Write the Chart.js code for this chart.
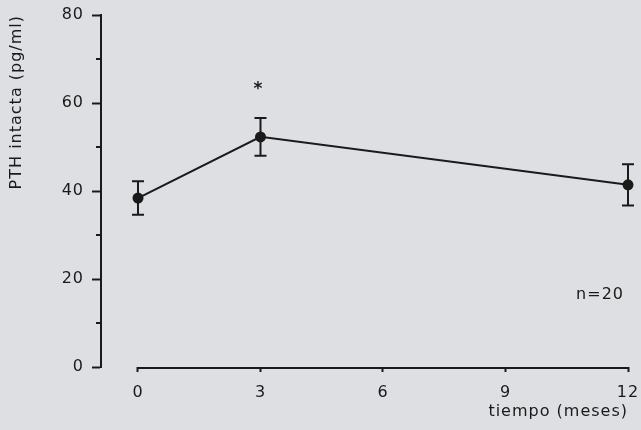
<!DOCTYPE html>
<html>
<head>
<meta charset="utf-8">
<script src="https://cdn.jsdelivr.net/npm/chart.js@4/dist/chart.umd.min.js"></script>
<style>
  html, body { margin: 0; padding: 0; background: #dedfe2; }
  #wrap { width: 641px; height: 430px; position: relative; }
  canvas { display: block; }
</style>
</head>
<body>
<div id="wrap"><canvas id="c" width="641" height="430"></canvas></div>
<script>
// ---- data ----
const months      = [0, 3, 12];
const pthMean     = [38.4, 52.3, 41.4];
const pthSem      = [3.8, 4.3, 4.7];
const significant = [false, true, false];
const xTickValues = [0, 3, 6, 9, 12];
const yMinorTicks = [10, 30, 50, 70];
const xTitle   = 'tiempo (meses)';
const yTitle   = 'PTH intacta (pg/ml)';
const noteText = 'n=20';

// ---- style ----
const ink = '#1a1a1a';
const FONT = 'DejaVu Sans';

Chart.defaults.font.family = FONT;
Chart.defaults.font.size = 16;
Chart.defaults.color = ink;

const spacing = {
  id: 'spacing',
  beforeDraw(chart) { chart.ctx.letterSpacing = '1px'; }
};

const decor = {
  id: 'decor',
  beforeDatasetsDraw(chart) {
    const { ctx, chartArea } = chart;
    const x = chart.scales.x, y = chart.scales.y;
    ctx.save();
    ctx.strokeStyle = ink;
    ctx.lineWidth = 2;
    // x axis line spanning only the tick range (offset axis)
    const yb = chartArea.bottom + 1;
    ctx.beginPath();
    ctx.moveTo(x.getPixelForValue(xTickValues[0]) - 1, yb);
    ctx.lineTo(x.getPixelForValue(xTickValues[xTickValues.length - 1]) + 1, yb);
    ctx.stroke();
    // minor y ticks
    yMinorTicks.forEach(v => {
      const py = Math.round(y.getPixelForValue(v));
      ctx.beginPath();
      ctx.moveTo(chartArea.left - 5, py);
      ctx.lineTo(chartArea.left, py);
      ctx.stroke();
    });
    // error bars (mean +/- SEM)
    months.forEach((m, i) => {
      const px = x.getPixelForValue(m);
      const top = y.getPixelForValue(pthMean[i] + pthSem[i]);
      const bot = y.getPixelForValue(pthMean[i] - pthSem[i]);
      ctx.beginPath();
      ctx.moveTo(px, top); ctx.lineTo(px, bot);
      ctx.moveTo(px - 6, top); ctx.lineTo(px + 6, top);
      ctx.moveTo(px - 6, bot); ctx.lineTo(px + 6, bot);
      ctx.stroke();
    });
    ctx.restore();
  },
  afterDatasetsDraw(chart) {
    const { ctx, chartArea } = chart;
    const x = chart.scales.x, y = chart.scales.y;
    ctx.save();
    ctx.fillStyle = ink;
    // significance asterisks above the upper error bar
    ctx.font = 'bold 17px ' + FONT;
    ctx.textAlign = 'center';
    ctx.textBaseline = 'middle';
    months.forEach((m, i) => {
      if (!significant[i]) return;
      const px = x.getPixelForValue(m) - 2;
      const top = y.getPixelForValue(pthMean[i] + pthSem[i]);
      ctx.fillText('*', px, top - 28);
    });
    // sample size note
    ctx.font = '16px ' + FONT;
    ctx.textAlign = 'right';
    ctx.fillText(noteText, chartArea.right - 4, chartArea.bottom - 72);
    ctx.restore();
  }
};

const points = months.map((m, i) => ({ x: m, y: pthMean[i] }));

new Chart(document.getElementById('c'), {
  type: 'line',
  data: {
    datasets: [{
      data: points,
      borderColor: ink,
      borderWidth: 2,
      pointRadius: 5.5,
      pointHoverRadius: 5.5,
      pointBackgroundColor: ink,
      pointBorderWidth: 0,
      tension: 0,
      fill: false,
      clip: false
    }]
  },
  options: {
    responsive: false,
    devicePixelRatio: 1,
    animation: false,
    events: [],
    layout: { padding: { top: 15, right: 13, left: 0, bottom: 0 } },
    plugins: { legend: { display: false }, tooltip: { enabled: false } },
    scales: {
      x: {
        type: 'linear',
        min: -0.906,
        max: 12,
        afterBuildTicks(scale) { scale.ticks = xTickValues.map(v => ({ value: v })); },
        afterFit(scale) { scale.height = 63; scale.paddingLeft = 0; scale.paddingRight = 0; },
        border: { display: false },
        grid: { drawOnChartArea: false, drawTicks: true, tickLength: 5, tickWidth: 2, tickColor: ink },
        ticks: { padding: 11, color: ink, maxRotation: 0 },
        title: { display: true, text: xTitle, align: 'end', color: ink, padding: { top: 0, bottom: 9 } }
      },
      y: {
        min: 0,
        max: 80,
        afterFit(scale) { scale.width = 101; scale.paddingTop = 0; scale.paddingBottom = 0; },
        border: { display: true, color: ink, width: 2 },
        grid: { drawOnChartArea: false, drawTicks: true, tickLength: 9, tickWidth: 2, tickColor: ink },
        ticks: { stepSize: 20, padding: 8, color: ink },
        title: { display: true, text: yTitle, align: 'end', color: ink, padding: { top: 7, bottom: 0 } }
      }
    }
  },
  plugins: [spacing, decor]
});
</script>
</body>
</html>
